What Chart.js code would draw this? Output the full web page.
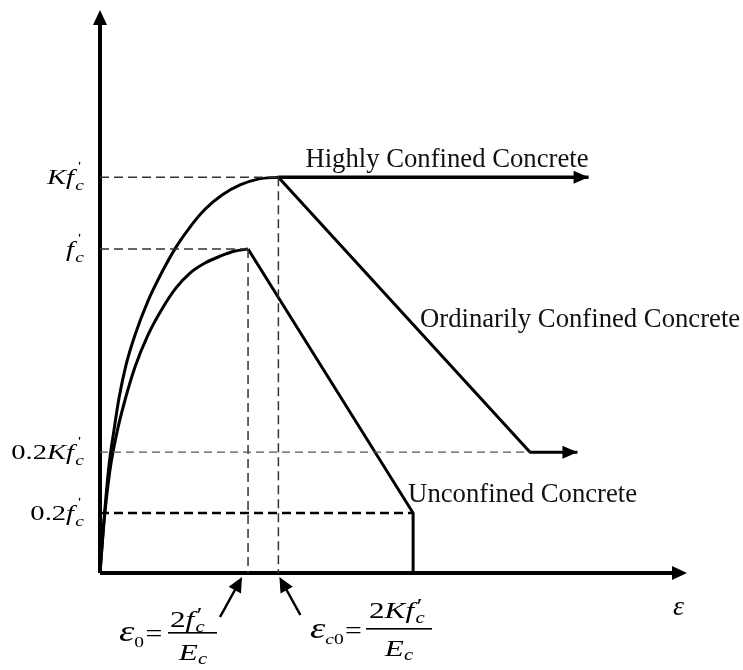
<!DOCTYPE html>
<html>
<head>
<meta charset="utf-8">
<script src="https://cdn.jsdelivr.net/npm/chart.js@4/dist/chart.umd.min.js"></script>
<style>
  html, body { margin: 0; background: #fff; }
  #wrap { width: 743px; height: 670px; position: relative; }
</style>
</head>
<body>
<div id="wrap"><canvas id="stressStrain"></canvas></div>
<script>
// Stress-strain model for concrete (schematic).
// strain in per-mille, stress normalised by f'c

const strainMax = 7.93;
const stressMax = 1.738;

const eps0 = 2.0;     // unconfined peak strain
const epsc0 = 2.41;   // confined peak strain

// stress levels marked on the vertical axis
const levelKfc = 1.222;
const levelFc = 1.0;
const level02Kfc = 0.373;
const level02Fc = 0.185;

// ascending branches
const highlyStrain = [0, 0.054, 0.122, 0.189, 0.257, 0.351, 0.473, 0.649, 0.838, 1.027, 1.216, 1.419, 1.649, 1.892, 2.135, 2.41];
const highlyStress = [0, 0.164, 0.333, 0.441, 0.540, 0.642, 0.735, 0.840, 0.929, 1.006, 1.068, 1.123, 1.167, 1.198, 1.216, 1.222];

const unconfStrain = [0, 0.054, 0.135, 0.230, 0.338, 0.473, 0.649, 0.838, 1.027, 1.216, 1.419, 1.622, 1.824, 2.0];
const unconfStress = [0, 0.157, 0.318, 0.435, 0.534, 0.636, 0.735, 0.815, 0.880, 0.926, 0.957, 0.978, 0.994, 1.0];

// post-peak branches
const plateauStrain = [2.41, 6.6];
const plateauStress = [1.222, 1.222];
const ordinaryStrain = [2.41, 5.81, 6.45];
const ordinaryStress = [1.222, 0.373, 0.373];
const unconfTailStrain = [2.0, 4.23, 4.23];
const unconfTailStress = [1.0, 0.185, 0];

const serif = '"Liberation Serif", "Times New Roman", serif';

function seg(xs, ys, opts) {
  return Object.assign({
    data: xs.map((v, i) => ({ x: v, y: ys[i] })),
    borderColor: '#000',
    borderWidth: 3,
    pointRadius: 0,
    fill: false,
    clip: false,
    tension: 0,
    borderJoinStyle: 'miter'
  }, opts);
}

const thinDash = { borderColor: '#333', borderWidth: 1.5, borderDash: [9, 5] };

const datasets = [
  // guide lines
  seg([0, epsc0], [levelKfc, levelKfc], thinDash),
  seg([0, eps0], [levelFc, levelFc], thinDash),
  seg([0, ordinaryStrain[1]], [level02Kfc, level02Kfc], { borderColor: '#555', borderWidth: 1.3, borderDash: [8, 5] }),
  seg([0, unconfTailStrain[1]], [level02Fc, level02Fc], { borderColor: '#000', borderWidth: 2.5, borderDash: [9, 5] }),
  seg([eps0, eps0], [levelFc, 0], thinDash),
  seg([epsc0, epsc0], [levelKfc, 0], thinDash),
  // curves
  seg(highlyStrain, highlyStress, { cubicInterpolationMode: 'monotone' }),
  seg(unconfStrain, unconfStress, { cubicInterpolationMode: 'monotone' }),
  seg(plateauStrain, plateauStress, { borderWidth: 3.5 }),
  seg(ordinaryStrain, ordinaryStress),
  seg(unconfTailStrain, unconfTailStress),
  // axes
  seg([0, 0], [0, stressMax - 0.03], { borderWidth: 4 }),
  seg([0, strainMax - 0.15], [0, 0], { borderWidth: 4 })
];

function head(ctx, tx, ty, dx, dy, len, half) {
  const n = Math.hypot(dx, dy); dx /= n; dy /= n;
  const bx = tx - dx * len, by = ty - dy * len;
  ctx.beginPath();
  ctx.moveTo(tx, ty);
  ctx.lineTo(bx - dy * half, by + dx * half);
  ctx.lineTo(bx + dy * half, by - dx * half);
  ctx.closePath();
  ctx.fill();
}

function pointer(ctx, x0, y0, x1, y1) {
  const len = Math.hypot(x1 - x0, y1 - y0);
  const ux = (x1 - x0) / len, uy = (y1 - y0) / len;
  ctx.beginPath();
  ctx.moveTo(x0, y0);
  ctx.lineTo(x1 - ux * 10, y1 - uy * 10);
  ctx.lineWidth = 2.5;
  ctx.stroke();
  head(ctx, x1, y1, ux, uy, 15, 7);
}

// math-ish text runs, stretched a little sideways like the typeset labels
// parts: {t, f, dy, dx, adv, gap}
const stretch = 1.3;
function rich(ctx, x, y, parts, align) {
  let w = 0;
  parts.forEach(p => { ctx.font = p.f; if (p.adv !== false) w += ctx.measureText(p.t).width + (p.gap || 0); });
  const sw = w * stretch;
  const left = align === 'right' ? x - sw : align === 'center' ? x - sw / 2 : x;
  ctx.save();
  ctx.translate(left, y);
  ctx.scale(stretch, 1);
  let cx = 0;
  parts.forEach(p => {
    ctx.font = p.f;
    ctx.fillText(p.t, cx + (p.dx || 0), p.dy || 0);
    if (p.adv !== false) cx += ctx.measureText(p.t).width + (p.gap || 0);
  });
  ctx.restore();
  return sw;
}

const it22 = 'italic 22px ' + serif;
const rm22 = '22px ' + serif;
const sub = 'italic 15px ' + serif;
const tickPrime = '13px ' + serif;

function fcParts(pre) {
  const out = [];
  if (pre) out.push({ t: pre, f: rm22 });
  out.push({ t: 'f', f: it22, gap: 1 });
  out.push({ t: "'", f: tickPrime, dy: -14, dx: 2, adv: false });
  out.push({ t: 'c', f: sub, dy: 6 });
  return out;
}

const levelMarks = [
  { v: levelKfc, parts: [{ t: 'K', f: it22 }].concat(fcParts('')) },
  { v: levelFc, parts: fcParts('') },
  { v: level02Kfc, parts: [{ t: '0.2', f: rm22 }, { t: 'K', f: it22 }].concat(fcParts('')) },
  { v: level02Fc, parts: fcParts('0.2') }
];

const sketch = {
  id: 'sketch',
  afterDatasetsDraw(chart) {
    const { ctx, scales: { x, y } } = chart;
    const px = v => x.getPixelForValue(v), py = v => y.getPixelForValue(v);
    ctx.save();
    ctx.fillStyle = '#000';
    ctx.strokeStyle = '#000';

    // arrowheads
    head(ctx, px(0), py(stressMax), 0, -1, 15, 7);
    head(ctx, px(strainMax), py(0), 1, 0, 15, 7);
    head(ctx, px(plateauStrain[1]), py(plateauStress[1]), 1, 0, 15, 6.5);
    head(ctx, px(ordinaryStrain[2]), py(ordinaryStress[2]), 1, 0, 15, 6.5);

    // pointers to the peak strains
    const ax = py(0);
    pointer(ctx, px(eps0) - 28, ax + 44, px(eps0) - 6, ax + 4);
    pointer(ctx, px(epsc0) + 22, ax + 42, px(epsc0) + 1, ax + 4);

    // stress level labels
    ctx.textBaseline = 'alphabetic';
    levelMarks.forEach(m => rich(ctx, px(0) - 16, py(m.v) + 7, m.parts, 'right'));

    // curve names
    ctx.fillStyle = '#111';
    ctx.font = '26.7px ' + serif;
    ctx.fillText('Highly Confined Concrete', px(epsc0) + 27, py(levelKfc) - 10);
    ctx.fillText('Ordinarily Confined Concrete', 420, 327);
    ctx.fillText('Unconfined Concrete', px(unconfTailStrain[1]) - 5, py(level02Fc) - 11);

    // horizontal axis symbol
    ctx.fillStyle = '#000';
    ctx.font = 'italic 28px ' + serif;
    ctx.fillText('ε', px(strainMax) - 14, ax + 42);

    // peak strain definitions
    const eps = 'italic 30px ' + serif;
    const eq = '23px ' + serif;
    const it24 = 'italic 24px ' + serif;
    const rm24 = '24px ' + serif;
    const sub16 = 'italic 16px ' + serif;
    const sub0 = '15px ' + serif;
    const prime = '20px ' + serif;

    // ε0 = 2f'c / Ec
    rich(ctx, 119, 641, [{ t: 'ε', f: eps }, { t: '0', f: sub0, dy: 6, gap: 1 }, { t: '=', f: eq }]);
    rich(ctx, 170, 627, [{ t: '2', f: rm24 }, { t: 'f', f: it24, gap: 1 },
      { t: '′', f: prime, dy: -5, dx: 1, adv: false }, { t: 'c', f: sub16, dy: 5 }]);
    ctx.fillRect(168, 632, 49, 1.6);
    rich(ctx, 193, 660, [{ t: 'E', f: it24 }, { t: 'c', f: sub16, dy: 4 }], 'center');

    // εc0 = 2Kf'c / Ec
    rich(ctx, 310, 638, [{ t: 'ε', f: eps }, { t: 'c', f: sub, dy: 6 }, { t: '0', f: sub0, dy: 6, gap: 1 }, { t: '=', f: eq }]);
    rich(ctx, 369, 618, [{ t: '2', f: rm24 }, { t: 'K', f: it24 }, { t: 'f', f: it24, gap: 1 },
      { t: '′', f: prime, dy: -5, dx: 1, adv: false }, { t: 'c', f: sub16, dy: 5 }]);
    ctx.fillRect(366, 628, 66, 1.6);
    rich(ctx, 399, 656, [{ t: 'E', f: it24 }, { t: 'c', f: sub16, dy: 4 }], 'center');

    ctx.restore();
  }
};

new Chart(document.getElementById('stressStrain'), {
  type: 'line',
  data: { datasets },
  options: {
    responsive: true,
    maintainAspectRatio: false,
    animation: false,
    layout: { padding: { left: 100, right: 56, top: 10, bottom: 97 } },
    scales: {
      x: { type: 'linear', min: 0, max: strainMax, display: false },
      y: { type: 'linear', min: 0, max: stressMax, display: false }
    },
    plugins: { legend: { display: false }, tooltip: { enabled: false } }
  },
  plugins: [sketch]
});
</script>
</body>
</html>
